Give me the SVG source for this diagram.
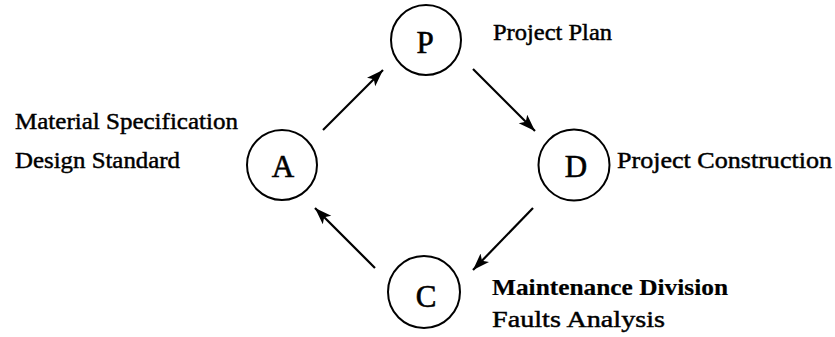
<svg xmlns="http://www.w3.org/2000/svg" width="835" height="337" viewBox="0 0 835 337">
  <style>
    .node { fill: #ffffff; stroke: #000000; stroke-width: 2; }
    .letter { font-family: "Liberation Serif", "Times New Roman", Times, serif; font-size: 31px; fill: #000; stroke: #000; stroke-width: 0.6; text-anchor: middle; }
    .label { font-family: "Liberation Serif", "Times New Roman", Times, serif; font-size: 23px; fill: #000; stroke: #000; stroke-width: 0.45; }
    .label.strong { font-weight: bold; stroke-width: 0.2; }
    .edge { stroke: #000; stroke-width: 2.2; fill: none; marker-end: url(#head); }
  </style>
  <defs>
    <marker id="head" markerUnits="userSpaceOnUse" markerWidth="19" markerHeight="13" refX="17" refY="6" orient="auto">
      <path d="M0,0 L17,6 L0,12 L4,6 Z" fill="#000"/>
    </marker>
  </defs>
  <rect width="835" height="337" fill="#ffffff"/>

  <!-- connectors: the P-D-C-A cycle -->
  <g id="connectors">
    <line class="edge" x1="323" y1="130" x2="383" y2="70"/>
    <line class="edge" x1="473" y1="69" x2="535" y2="131"/>
    <line class="edge" x1="533" y1="208" x2="473" y2="270"/>
    <line class="edge" x1="375" y1="268" x2="315" y2="208"/>
  </g>

  <g id="node-P">
    <circle class="node" cx="426" cy="40" r="35"/>
    <text class="letter" x="425" y="53">P</text>
    <text class="label" x="493" y="40" textLength="119" lengthAdjust="spacingAndGlyphs">Project Plan</text>
  </g>

  <g id="node-D">
    <circle class="node" cx="574" cy="165" r="35.5"/>
    <text class="letter" x="576" y="177">D</text>
    <text class="label" x="617" y="168" textLength="215" lengthAdjust="spacingAndGlyphs">Project Construction</text>
  </g>

  <g id="node-C">
    <circle class="node" cx="424" cy="292" r="36"/>
    <text class="letter" x="426" y="307">C</text>
    <text class="label strong" x="492" y="295" textLength="236" lengthAdjust="spacingAndGlyphs">Maintenance Division</text>
    <text class="label" x="492" y="327" textLength="173" lengthAdjust="spacingAndGlyphs">Faults Analysis</text>
  </g>

  <g id="node-A">
    <circle class="node" cx="282" cy="165" r="35"/>
    <text class="letter" x="283" y="177">A</text>
    <text class="label" x="15" y="129" textLength="223" lengthAdjust="spacingAndGlyphs">Material Specification</text>
    <text class="label" x="15" y="168" textLength="165" lengthAdjust="spacingAndGlyphs">Design Standard</text>
  </g>
</svg>
